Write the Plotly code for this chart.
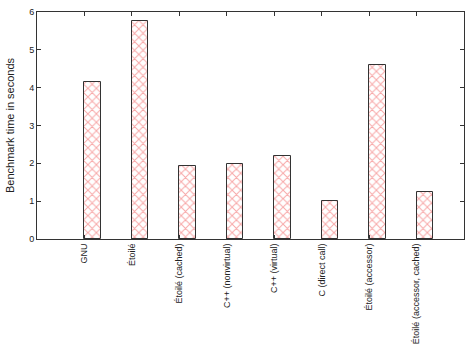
import plotly.graph_objects as go

categories = ["GNU", "Étoilé", "Étoilé (cached)", "C++ (nonvirtual)", "C++ (virtual)",
              "C (direct call)", "Étoilé (accessor)", "Étoilé (accessor, cached)"]
values = [4.16, 5.75, 1.94, 1.99, 2.2, 1.01, 4.6, 1.25]
positions = [1, 2, 3, 4, 5, 6, 7, 8]
bar_width = 0.35

fig = go.Figure()
fig.add_trace(go.Bar(
    x=[p + bar_width / 2 for p in positions],
    y=values,
    width=bar_width,
    marker=dict(
        color="white",
        line=dict(color="#333333", width=1),
        pattern=dict(shape="x", fgcolor="#f05050", bgcolor="white", size=6, solidity=0.3),
    ),
    showlegend=False,
))

fig.update_layout(
    width=473, height=354,
    margin=dict(l=37, r=9, t=7, b=115),
    plot_bgcolor="white", paper_bgcolor="white",
    font=dict(family="Liberation Sans, Arial, sans-serif", size=9, color="#222222"),
    bargap=0,
)
fig.update_xaxes(
    range=[0, 9], tickmode="array", tickvals=positions, ticktext=categories,
    tickangle=-90, ticks="inside", ticklen=4, tickcolor="#333333",
    showline=True, linecolor="#333333", linewidth=1, mirror="ticks",
    showgrid=False, zeroline=False,
)
fig.update_yaxes(
    range=[0, 6], dtick=1, ticks="inside", ticklen=4, tickcolor="#333333",
    showline=True, linecolor="#333333", linewidth=1, mirror="ticks",
    showgrid=False, zeroline=False,
    title=dict(text="Benchmark time in seconds", standoff=12),
)
fig.write_html("out.html")
